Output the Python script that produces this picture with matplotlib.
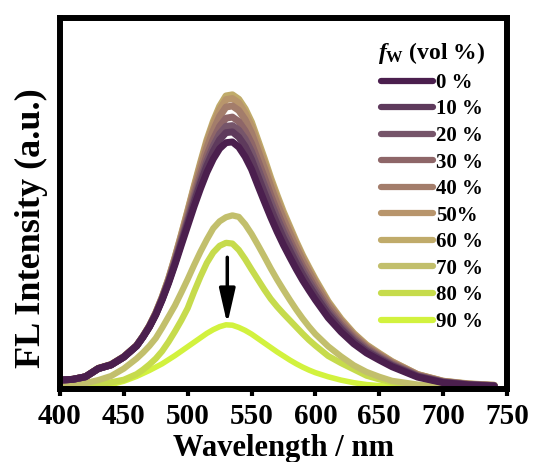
import matplotlib
matplotlib.use("Agg")
import matplotlib.pyplot as plt
from matplotlib.lines import Line2D

plt.rcParams['font.family'] = ['Liberation Serif', 'DejaVu Serif']
plt.rcParams['font.weight'] = 'bold'
plt.rcParams['mathtext.fontset'] = 'custom'
plt.rcParams['mathtext.rm'] = 'Liberation Serif:bold'
plt.rcParams['mathtext.it'] = 'Liberation Serif:bold:italic'

comprimento = [400, 410, 420, 430, 440, 450,
               460, 465, 470, 475, 480, 485, 490, 495, 500, 505, 510, 515, 520, 525,
               530, 535, 540, 545, 550, 555, 560, 565, 570, 575, 580, 585, 590, 595, 600,
               610, 620, 630, 640, 650, 660, 680, 700, 720, 740]

fw0 = [24, 26, 33, 55, 65, 86,
       116, 140, 167, 200, 240, 285, 335, 388, 440, 492, 540, 584, 620, 648,
       664, 666, 652, 626, 592, 548, 505, 463, 424, 388, 355, 323, 293, 266, 240,
       192, 154, 122, 97, 78, 60, 32, 17, 11, 8]
fw10 = [24, 26, 33, 55, 65, 86,
        116, 140, 168, 201, 242, 288, 339, 394, 448, 503, 555, 602, 641, 672,
        691, 693, 679, 654, 619, 574, 530, 486, 445, 407, 373, 339, 308, 279, 252,
        202, 162, 128, 102, 82, 63, 34, 18, 11, 8]
fw20 = [24, 26, 33, 55, 65, 86,
        116, 141, 168, 202, 243, 289, 342, 398, 454, 511, 564, 614, 655, 688,
        708, 710, 698, 674, 640, 595, 550, 505, 462, 423, 387, 352, 319, 290, 262,
        209, 168, 133, 106, 85, 65, 35, 19, 12, 9]
fw30 = [24, 26, 33, 55, 65, 86,
        117, 141, 169, 203, 244, 291, 345, 403, 461, 521, 577, 630, 673, 708,
        730, 733, 721, 696, 662, 616, 571, 523, 479, 438, 401, 365, 331, 301, 271,
        217, 174, 138, 110, 88, 68, 36, 19, 12, 9]
fw40 = [24, 26, 33, 55, 65, 87,
        117, 141, 169, 204, 246, 294, 350, 409, 471, 533, 593, 650, 697, 735,
        760, 763, 751, 726, 690, 643, 596, 546, 500, 458, 419, 381, 346, 314, 283,
        227, 182, 144, 114, 92, 71, 38, 20, 13, 9]
fw50 = [24, 26, 33, 55, 66, 87,
        117, 142, 170, 205, 247, 296, 353, 414, 477, 542, 604, 664, 713, 753,
        780, 783, 771, 744, 708, 659, 611, 560, 513, 469, 430, 391, 355, 322, 290,
        232, 186, 148, 117, 94, 73, 39, 21, 13, 10]
fw60 = [24, 26, 33, 56, 66, 87,
        117, 142, 170, 205, 248, 297, 354, 416, 480, 546, 610, 671, 721, 762,
        790, 793, 781, 755, 719, 670, 621, 569, 522, 477, 437, 397, 360, 327, 295,
        236, 189, 150, 119, 96, 74, 39, 21, 14, 10]
fw70 = [13, 13, 16, 24, 35, 55,
        82, 98, 116, 137, 165, 195, 225, 260, 296, 334, 370, 403, 433, 452,
        463, 468, 464, 444, 418, 388, 357, 325, 295, 267, 240, 214, 190, 168, 148,
        115, 88, 64, 46, 33, 22, 12, 8, 6, 5]
fw80 = [8, 8, 10, 13, 18, 25,
        40, 52, 66, 82, 102, 127, 155, 185, 218, 262, 303, 340, 368, 386,
        394, 392, 375, 350, 322, 295, 268, 243, 222, 203, 185, 167, 149, 132, 117,
        89, 70, 53, 36, 26, 18, 10, 7, 5, 4]
fw90 = [4, 4, 5, 7, 12, 21,
        34, 42, 50, 59, 68, 79, 90, 102, 114, 126, 138, 150, 160, 168,
        173, 172, 166, 158, 148, 136, 124, 112, 100, 89, 78, 68, 59, 51, 44,
        33, 24, 17, 12, 9, 7, 5, 4, 4, 3]

series = [fw0, fw10, fw20, fw30, fw40, fw50, fw60, fw70, fw80, fw90]
rotulos = ["0 %", "10 %", "20 %", "30 %", "40 %", "50%", "60 %", "70 %", "80 %", "90 %"]
cores = ["#4B1F4E", "#5E3A5C", "#76556A", "#8E6668", "#A37D6B",
         "#B8956C", "#C0AB6A", "#C2BF6C", "#C6DB4C", "#D2F23E"]
espessuras = [5, 5, 5, 5, 5, 5, 5, 4.5, 4.5, 4]

fig = plt.figure(figsize=(5.37, 4.62), dpi=100)
ax = fig.add_axes([0.1117, 0.158, 0.8324, 0.803])

# verdes primeiro, depois roxos do 60% ao 0% (0% por cima)
ordem = [9, 8, 7, 6, 5, 4, 3, 2, 1, 0]
for i in ordem:
    ax.plot(comprimento, series[i], color=cores[i], lw=espessuras[i],
            solid_capstyle='round', solid_joinstyle='round')

ax.annotate('', xy=(531, 175), xytext=(531, 355),
            arrowprops=dict(arrowstyle='-|>,head_length=1.05,head_width=0.24',
                            lw=2.5, color='black', mutation_scale=20,
                            shrinkA=0, shrinkB=0))

ax.set_xlim(400, 750)
ax.set_ylim(0, 1000)
ax.set_xticks([400, 450, 500, 550, 600, 650, 700, 750])
ax.set_yticks([])
ax.tick_params(axis='x', direction='out', length=5, width=3, labelsize=21, pad=5)
for s in ax.spines.values():
    s.set_linewidth(4.3)

ax.set_xlabel("Wavelength / nm", fontsize=22, fontweight='bold', labelpad=3)
ax.set_ylabel("FL Intensity (a.u.)", fontsize=26, fontweight='bold')
ax.yaxis.set_label_coords(-0.027, 0.434)

legendas = [Line2D([0], [0], color=c, lw=4.5, solid_capstyle='round') for c in cores]
leg = ax.legend(legendas, rotulos, title=r"$f_{\mathrm{W}}$ (vol %)",
                loc='upper center', bbox_to_anchor=(0.832, 0.94),
                frameon=False, fontsize=15, title_fontsize=17,
                handlelength=2.5, handletextpad=0.15, labelspacing=0.315,
                borderpad=0, borderaxespad=0)
leg.get_title().set_fontweight('bold')

fig.savefig("out.png", dpi=100)
